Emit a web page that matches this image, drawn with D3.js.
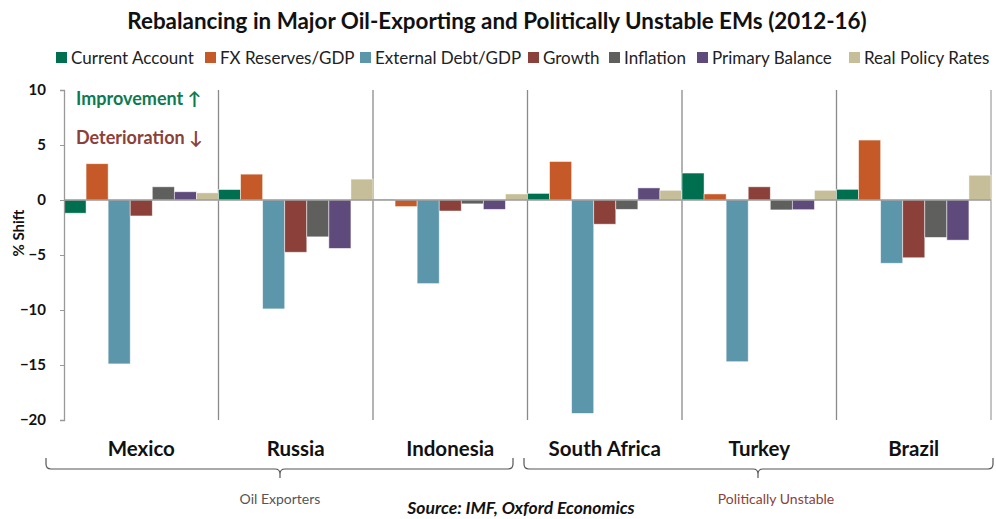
<!DOCTYPE html>
<html><head><meta charset="utf-8">
<script src="https://cdn.jsdelivr.net/npm/d3@7"></script>
<style>
body{margin:0;background:#fff;}
svg{font-family:Lato,"Open Sans",sans-serif;}
</style></head>
<body><svg id="c" width="996" height="519"></svg>
<script>
const countries = ["Mexico","Russia","Indonesia","South Africa","Turkey","Brazil"];
const seriesNames = ["Current Account","FX Reserves/GDP","External Debt/GDP","Growth","Inflation","Primary Balance","Real Policy Rates"];
const currentAccount = [-1.2, 0.95, 0.05, 0.6, 2.45, 0.97];
const fxReserves = [3.3, 2.35, -0.6, 3.5, 0.55, 5.45];
const externalDebt = [-14.9, -9.9, -7.6, -19.4, -14.7, -5.75];
const growth = [-1.45, -4.75, -1.0, -2.2, 1.2, -5.25];
const inflation = [1.2, -3.35, -0.35, -0.85, -0.9, -3.4];
const primaryBalance = [0.75, -4.4, -0.85, 1.1, -0.88, -3.65];
const realPolicyRates = [0.65, 1.9, 0.55, 0.88, 0.88, 2.25];
const yTicks = [10,5,0,-5,-10,-15,-20];
const colors = ["#006F4F","#C55A28","#5B96AB","#8B4039","#5F605E","#5F4B7B","#C5BE98"];

const seriesValues = [currentAccount, fxReserves, externalDebt, growth, inflation, primaryBalance, realPolicyRates];
const svg = d3.select("#c");
const x0 = d3.scaleBand().domain(countries).range([64, 991]).padding(0);
const x1 = d3.scaleBand().domain(seriesNames).range([0, x0.bandwidth()]).padding(0);
const y = d3.scaleLinear().domain([-20, 10]).range([420, 90]);

// title
svg.append("text").attr("x", 497).attr("y", 29).attr("text-anchor","middle")
  .attr("font-size", 22.4).attr("font-weight","bold").attr("fill","#111")
  .text("Rebalancing in Major Oil-Exporting and Politically Unstable EMs (2012-16)");

// legend
const legX = [56, 205, 360, 528, 609, 697, 849];
const leg = svg.append("g");
seriesNames.forEach((s,i)=>{
  leg.append("rect").attr("x", legX[i]).attr("y", 52).attr("width", 11).attr("height", 11).attr("fill", colors[i]);
  leg.append("text").attr("x", legX[i]+15).attr("y", 64).attr("font-size", 17).attr("fill","#222").text(s);
});

// group separators
svg.append("g").selectAll("line").data(countries.slice(1)).join("line")
  .attr("x1", d=>x0(d)).attr("x2", d=>x0(d)).attr("y1", 90).attr("y2", 420)
  .attr("stroke","#8a8a8a").attr("stroke-width",1.3);
svg.append("line").attr("x1",991).attr("x2",991).attr("y1",90).attr("y2",420).attr("stroke","#b0b0b0").attr("stroke-width",1.5);

// bars
const rows = [];
countries.forEach((c,ci)=>seriesNames.forEach((s,si)=>rows.push({c, s, v: seriesValues[si][ci], i: si})));
svg.append("g").selectAll("rect").data(rows).join("rect")
  .attr("x", d=>x0(d.c)+x1(d.s)).attr("width", x1.bandwidth())
  .attr("y", d=>y(Math.max(0,d.v))).attr("height", d=>Math.abs(y(d.v)-y(0)))
  .attr("fill", d=>colors[d.i]).attr("stroke","#fff").attr("stroke-opacity",0.6).attr("stroke-width",0.8);

// zero line
svg.append("line").attr("x1",64).attr("x2",991).attr("y1",y(0)).attr("y2",y(0)).attr("stroke","#999").attr("stroke-width",1.3);

// y axis
const ya = svg.append("g").attr("transform","translate(64,0)")
  .call(d3.axisLeft(y).tickValues(yTicks).tickSize(4).tickPadding(14).tickFormat(d3.format("d")));
ya.select(".domain").attr("stroke","#999").attr("stroke-width",1.3);
ya.selectAll(".tick line").attr("stroke","#999");
ya.selectAll("text").attr("font-size",15).attr("font-weight","bold").attr("fill","#111").attr("font-family","Lato,sans-serif");

svg.append("text").attr("transform","translate(24,233) rotate(-90)").attr("text-anchor","middle")
  .attr("font-size",15).attr("font-weight","bold").attr("fill","#111").text("% Shift");

// annotations
svg.append("text").attr("x",76).attr("y",105).attr("font-size",18).attr("font-weight","bold").attr("fill","#0E7A52").text("Improvement \u2191");
svg.append("text").attr("x",76).attr("y",144).attr("font-size",18).attr("font-weight","bold").attr("fill","#8B4039").text("Deterioration \u2193");

// category labels
svg.append("g").selectAll("text").data(countries).join("text")
  .attr("x", d=>x0(d)+x0.bandwidth()/2).attr("y", 456).attr("text-anchor","middle")
  .attr("font-size",20.5).attr("font-weight","bold").attr("fill","#111").text(d=>d);

// braces
function brace(x1b, x2b, xm){
  const top=458, mid=469, r=5;
  const p = `M${x1b},${top} L${x1b},${mid-r} Q${x1b},${mid} ${x1b+r},${mid} L${xm-r},${mid} Q${xm},${mid} ${xm},${mid+r} L${xm},${mid+9} M${xm},${mid+r} Q${xm},${mid} ${xm+r},${mid} L${x2b-r},${mid} Q${x2b},${mid} ${x2b},${mid-r} L${x2b},${top}`;
  svg.append("path").attr("d",p).attr("fill","none").attr("stroke","#555").attr("stroke-width",1.2);
}
brace(46, 513, 280);
brace(524, 993, 758);
svg.append("text").attr("x",280).attr("y",504).attr("text-anchor","middle").attr("font-size",14).attr("fill","#555").text("Oil Exporters");
svg.append("text").attr("x",776).attr("y",504).attr("text-anchor","middle").attr("font-size",14).attr("fill","#8B4039").text("Politically Unstable");
svg.append("text").attr("x",521).attr("y",514).attr("text-anchor","middle").attr("font-size",17.5).attr("font-weight","bold").attr("font-style","italic").attr("fill","#111").text("Source: IMF, Oxford Economics");
</script></body></html>
